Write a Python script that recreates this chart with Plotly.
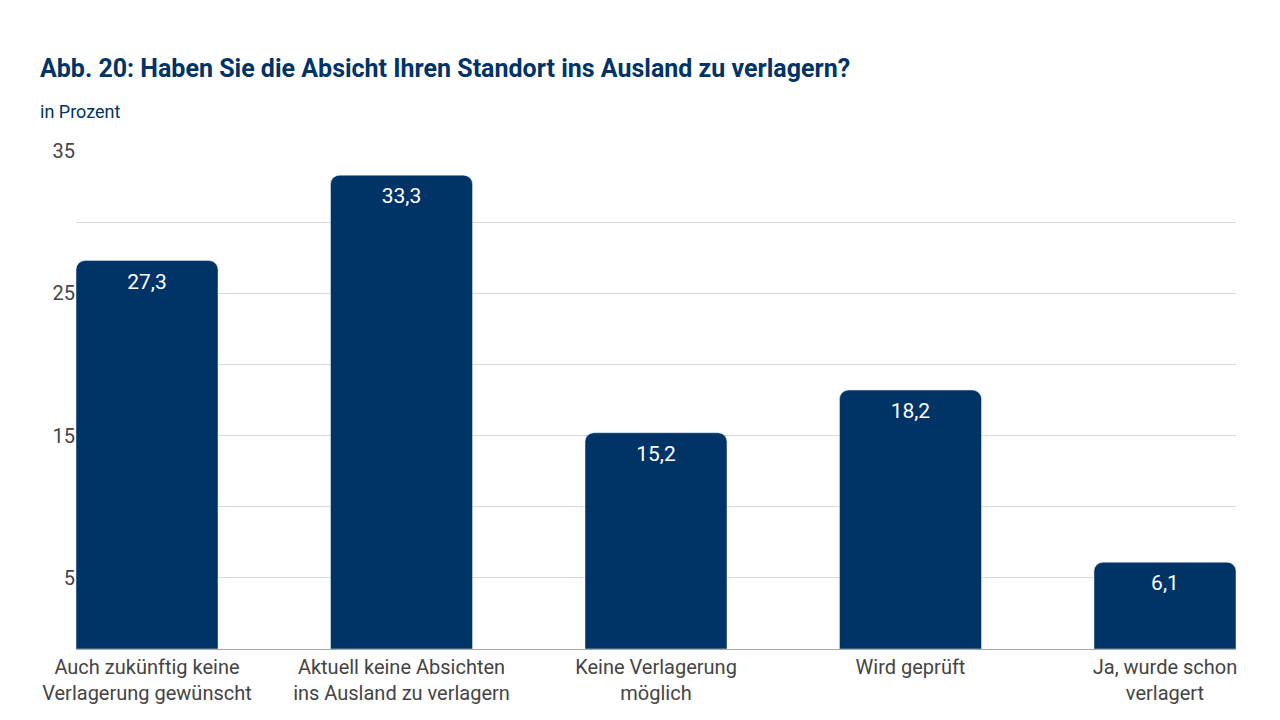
import plotly.graph_objects as go

categories = ["Auch zukünftig keine<br>Verlagerung gewünscht",
              "Aktuell keine Absichten<br>ins Ausland zu verlagern",
              "Keine Verlagerung<br>möglich",
              "Wird geprüft",
              "Ja, wurde schon<br>verlagert"]
values = [27.3, 33.3, 15.2, 18.2, 6.1]
labels = [str(v).replace(".", ",") for v in values]

font = "Liberation Sans Narrow, Roboto, sans-serif"
navy = "#003366"

fig = go.Figure(go.Bar(
    x=categories, y=values, text=labels,
    textposition="inside", insidetextanchor="end",
    textfont=dict(color="white", size=21, family=font),
    marker=dict(color=navy, cornerradius=9),
))

fig.update_layout(
    width=1280, height=720,
    paper_bgcolor="white", plot_bgcolor="white",
    margin=dict(l=68, r=52, t=143, b=79),
    bargap=0.442, showlegend=False,
    font=dict(family=font, color="#444444", size=20),
    annotations=[
        dict(text="<b>Abb. 20: Haben Sie die Absicht Ihren Standort ins Ausland zu verlagern?</b>",
             xref="paper", yref="paper", x=0, y=1, xshift=-38, yshift=83,
             xanchor="left", yanchor="middle", showarrow=False,
             font=dict(size=25, color=navy, family=font)),
        dict(text="in Prozent",
             xref="paper", yref="paper", x=0, y=1, xshift=-38, yshift=40,
             xanchor="left", yanchor="middle", showarrow=False,
             font=dict(size=18, color=navy, family=font)),
    ],
)
fig.update_xaxes(range=[-0.279, 4.279], showline=True, linecolor="#aaaaaa",
                 linewidth=1, ticks="", tickfont=dict(size=20, color="#444444"))
fig.update_yaxes(range=[0, 35], tickvals=[5, 15, 25, 35], showgrid=True,
                 gridcolor="#d9d9d9", zeroline=False, ticks="",
                 minor=dict(tickvals=[10, 20, 30], showgrid=True, gridcolor="#d9d9d9"),
                 tickfont=dict(size=20, color="#444444"))

fig.write_html("out.html")
